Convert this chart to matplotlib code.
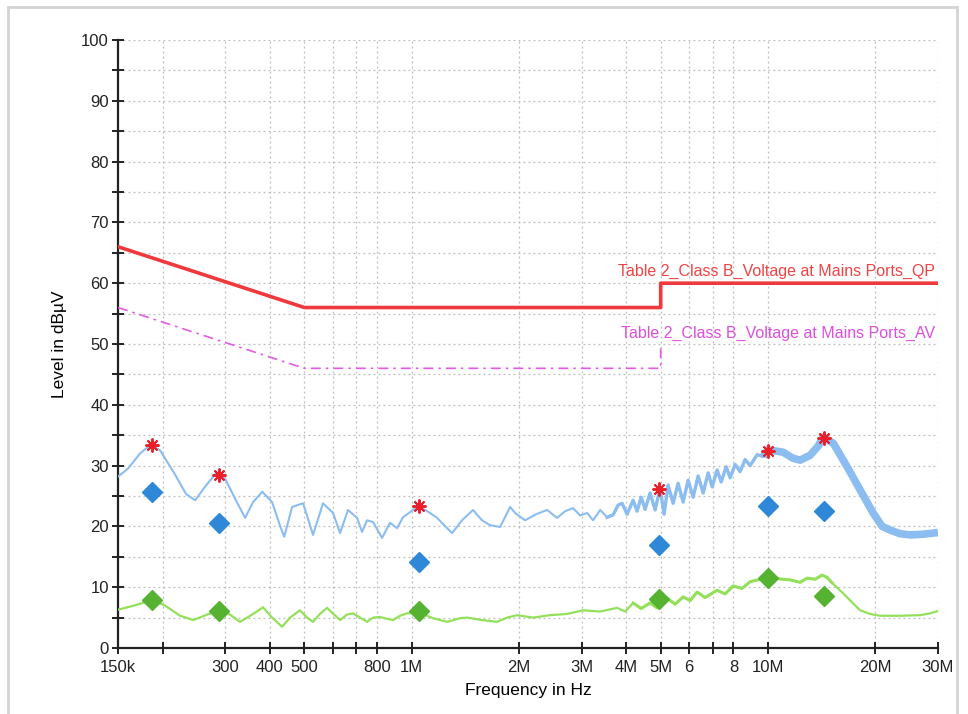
import matplotlib
matplotlib.use("Agg")
import matplotlib.pyplot as plt
import numpy as np
from matplotlib.patches import Rectangle

plt.rcParams['font.family'] = ['Liberation Sans', 'DejaVu Sans']

# ---------------- data (frequencies in MHz, levels in dBuV) ----------------
qp_limit_f = [0.15, 0.5, 5.0, 5.0, 30.0]
qp_limit_v = [66, 56, 56, 60, 60]
av_limit_f = [0.15, 0.5, 5.0, 5.0]
av_limit_v = [56, 46, 46, 50]

blue_f = [0.150, 0.160, 0.173, 0.185, 0.197, 0.217, 0.233, 0.247, 0.263, 0.283,
          0.300, 0.320, 0.341, 0.359, 0.381, 0.406, 0.428, 0.439, 0.462, 0.496,
          0.529, 0.564, 0.602, 0.630, 0.663, 0.703, 0.726, 0.750, 0.780, 0.826,
          0.870, 0.910, 0.946, 1.009, 1.049, 1.127, 1.179, 1.258, 1.299, 1.385,
          1.487, 1.576, 1.660, 1.771, 1.890, 1.952, 2.082, 2.235, 2.400, 2.560,
          2.696, 2.838, 2.970, 3.108, 3.231, 3.381, 3.537, 3.677, 3.797, 3.897,
          4.024, 4.184, 4.293, 4.406, 4.521, 4.669, 4.823, 4.980, 5.110, 5.245,
          5.418, 5.595, 5.780, 5.970, 6.166, 6.369, 6.578, 6.794, 6.972, 7.200,
          7.389, 7.632, 7.832, 8.089, 8.354, 8.628, 8.911, 9.323, 9.692, 10.01,
          11.03, 11.76, 12.31, 13.13, 13.83, 14.28, 15.24, 16.68, 18.14, 19.73,
          20.91, 22.02, 23.49, 25.07, 27.08, 29.08, 30.0]
blue_v = [28.2, 29.5, 32.0, 33.4, 32.5, 28.5, 25.3, 24.3, 26.5, 28.8,
          27.8, 24.5, 21.4, 24.0, 25.7, 24.0, 20.0, 18.3, 23.2, 23.8,
          18.6, 23.8, 22.2, 18.9, 22.7, 21.4, 19.1, 21.0, 20.7, 18.1,
          20.6, 19.7, 21.5, 22.7, 23.3, 22.2, 21.4, 19.7, 18.9, 21.0,
          22.7, 21.0, 20.2, 19.9, 23.2, 22.2, 21.0, 22.0, 22.7, 21.4,
          22.5, 23.0, 21.8, 22.2, 21.0, 22.7, 21.5, 21.9, 23.5, 23.8,
          22.0, 24.3, 22.5, 24.8, 22.8, 25.5, 22.7, 26.3, 22.0, 26.8,
          23.8, 27.1, 24.0, 27.6, 24.8, 28.3, 25.5, 28.8, 26.5, 29.3,
          27.3, 29.8, 28.0, 30.2, 29.0, 31.0, 30.0, 31.8, 31.5, 32.6,
          32.2, 31.2, 30.9, 31.7, 33.2, 34.7, 33.7, 29.8, 26.0, 22.2,
          20.0, 19.4, 18.8, 18.6, 18.7, 18.9, 19.0]

green_f = [0.150, 0.167, 0.187, 0.203, 0.224, 0.244, 0.267, 0.290, 0.309, 0.330,
           0.357, 0.383, 0.406, 0.433, 0.456, 0.486, 0.509, 0.529, 0.553, 0.579,
           0.606, 0.630, 0.659, 0.685, 0.717, 0.750, 0.780, 0.816, 0.853, 0.887,
           0.928, 0.971, 1.056, 1.149, 1.258, 1.368, 1.431, 1.576, 1.737, 1.854,
           1.977, 2.192, 2.447, 2.730, 3.029, 3.381, 3.773, 3.974, 4.184, 4.406,
           4.669, 4.886, 5.212, 5.489, 5.780, 6.047, 6.326, 6.661, 7.200, 7.580,
           7.984, 8.461, 8.911, 9.507, 9.944, 10.61, 11.54, 12.31, 12.88, 13.56,
           14.19, 14.65, 15.14, 16.25, 17.22, 18.14, 19.35, 20.64, 23.49, 26.73,
           28.52, 30.0]
green_v = [6.3, 7.0, 7.9, 7.0, 5.3, 4.6, 5.5, 6.2, 5.5, 4.3,
           5.5, 6.7, 5.0, 3.5, 5.0, 6.2, 5.0, 4.3, 5.6, 6.6,
           5.5, 4.6, 5.5, 5.7, 5.0, 4.3, 5.0, 5.1, 4.8, 4.6,
           5.3, 5.7, 5.8, 4.9, 4.3, 4.9, 5.0, 4.6, 4.3, 5.0,
           5.4, 5.0, 5.4, 5.6, 6.2, 6.0, 6.6, 6.0, 7.4, 6.5,
           7.4, 6.6, 8.2, 7.2, 8.4, 7.8, 9.2, 8.3, 9.5, 8.9,
           10.2, 9.8, 10.9, 11.3, 12.3, 11.4, 11.2, 10.8, 11.5, 11.3,
           12.0, 11.6, 10.7, 9.0, 7.5, 6.2, 5.6, 5.3, 5.3, 5.4,
           5.7, 6.1]

peak_f = [0.187, 0.288, 1.05, 4.95, 10.0, 14.4]
peak_v = [33.4, 28.5, 23.4, 26.2, 32.4, 34.5]
qp_f = [0.187, 0.288, 1.05, 4.95, 10.0, 14.4]
qp_v = [25.7, 20.6, 14.1, 16.9, 23.4, 22.5]
av_f = [0.187, 0.288, 1.05, 4.95, 10.0, 14.4]
av_v = [7.9, 6.1, 6.1, 8.1, 11.5, 8.6]

xtick_vals = [0.15, 0.2, 0.3, 0.4, 0.5, 0.6, 0.7, 0.8, 1, 2, 3, 4, 5, 6, 7, 8, 10, 20, 30]
xtick_labels = ["150k", "", "300", "400", "500", "", "", "800", "1M", "2M", "3M",
                "4M", "5M", "6", "", "8", "10M", "20M", "30M"]

qp_label = "Table 2_Class B_Voltage at Mains Ports_QP"
av_label = "Table 2_Class B_Voltage at Mains Ports_AV"

# ---------------- plot ----------------
fig = plt.figure(figsize=(9.68, 7.14), dpi=100)
fig.patches.append(Rectangle((0.008, -0.02), 0.981, 1.01, transform=fig.transFigure,
                             fill=False, edgecolor='#d4d4d4', lw=2))
ax = fig.add_axes([118/968, 1-648/714, 820/968, 608/714])

ax.set_xscale('log')
ax.set_xlim(0.15, 30)
ax.set_ylim(0, 100)

# grid
for yv in np.arange(5, 101, 5):
    ax.axhline(yv, color='#bdbdbd', lw=0.9, ls=(0, (1.5, 2.5)), zorder=0)
for xv in xtick_vals[1:]:
    ax.axvline(xv, color='#bdbdbd', lw=0.9, ls=(0, (1.5, 2.5)), zorder=0)

# limits
ax.plot(qp_limit_f, qp_limit_v, color='#f0393c', lw=2.6, zorder=3)
ax.plot(av_limit_f, av_limit_v, color='#e35be3', lw=1.2, ls=(0, (6, 3, 1.5, 3)), zorder=3)

# traces
bf = np.array(blue_f); bv = np.array(blue_v)
ax.plot(bf, bv, color='#8cbdf0', lw=1.5, zorder=4)
m1 = (bf >= 3.5) & (bf <= 10.1)
ax.plot(bf[m1], bv[m1], color='#8cbdf0', lw=2.4, zorder=4)
m2 = bf >= 9.6
ax.plot(bf[m2], bv[m2], color='#8cbdf0', lw=5.5, solid_capstyle='butt', zorder=4)
gf = np.array(green_f); gv = np.array(green_v)
ax.plot(gf, gv, color='#94e05a', lw=1.6, zorder=4)
mg = (gf >= 4.0) & (gf <= 16.0)
ax.plot(gf[mg], gv[mg], color='#94e05a', lw=2.2, zorder=4)

# markers
ax.plot(qp_f, qp_v, ls='none', marker='D', ms=10, color='#2f87d8', zorder=6)
ax.plot(av_f, av_v, ls='none', marker='D', ms=10, color='#56b332', zorder=6)
ax.plot(peak_f, peak_v, ls='none', marker=(8, 2, 0), ms=10, mew=1.4, color='#e8202a', zorder=7)

# labels
ax.text(0.996, 62.0, qp_label, transform=ax.get_yaxis_transform(), ha='right', va='center',
        color='#ee4444', fontsize=11.5)
ax.text(0.996, 51.8, av_label, transform=ax.get_yaxis_transform(), ha='right', va='center',
        color='#dd4fdd', fontsize=11.5)

# axes style
for s in ['top', 'right']:
    ax.spines[s].set_visible(False)
for s in ['left', 'bottom']:
    ax.spines[s].set_linewidth(1.6)
    ax.spines[s].set_color('#222222')

ax.set_xticks(xtick_vals)
ax.set_xticklabels(xtick_labels)
ax.xaxis.set_minor_locator(matplotlib.ticker.NullLocator())
ax.set_yticks(np.arange(0, 101, 10))
ax.set_yticks(np.arange(5, 100, 10), minor=True)
ax.tick_params(axis='both', which='both', direction='inout', length=9, width=1.4,
               colors='#222222', labelsize=12)
ax.tick_params(axis='x', pad=4)
ax.tick_params(axis='y', pad=2)

ax.set_xlabel("Frequency in Hz", fontsize=12.5, labelpad=6)
ax.set_ylabel("Level in dBµV", fontsize=12.5, labelpad=10)

fig.savefig("out.png", dpi=100)
